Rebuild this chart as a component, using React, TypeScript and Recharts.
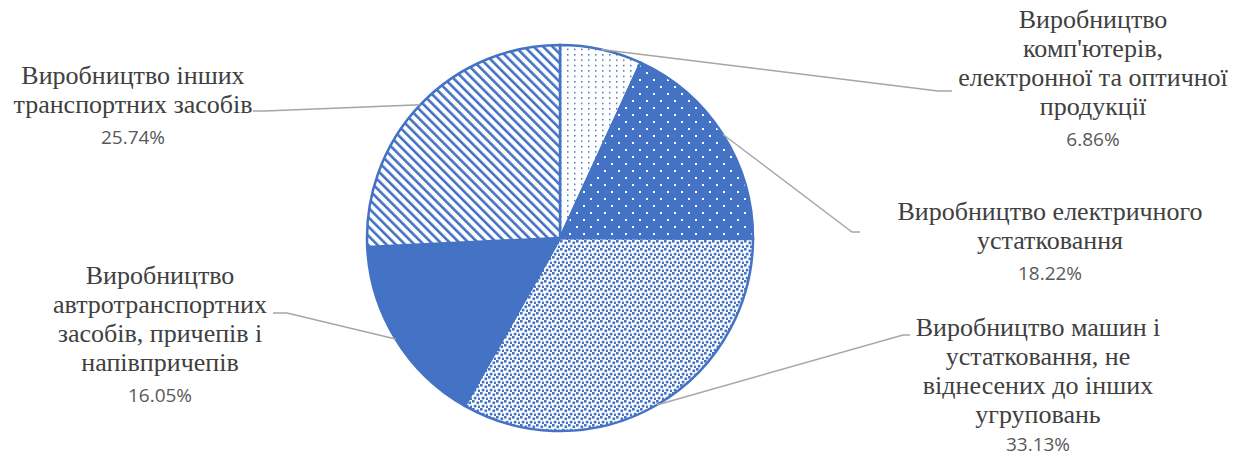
import React from 'react';
import { PieChart, Pie, Cell } from 'recharts';

const categories = [
  "Виробництво\nкомп'ютерів,\nелектронної та оптичної\nпродукції",
  'Виробництво електричного\nустатковання',
  'Виробництво машин і\nустатковання, не\nвіднесених до інших\nугруповань',
  'Виробництво\nавтротранспортних\nзасобів, причепів і\nнапівпричепів',
  'Виробництво інших\nтранспортних засобів',
];
const shares = [6.86, 18.22, 33.13, 16.05, 25.74];
const fills = ['url(#pDots)', 'url(#pBlueDots)', 'url(#pConfetti)', '#4472C4', 'url(#pStripes)'];

// label layout (text centre x, first baseline y, leader elbow, leader end)
const labelLayout = [
  { x: 1093, y: 28, ex: 938, ey: 91, tx: 952 },
  { x: 1050, y: 220, ex: 852, ey: 232, tx: 860 },
  { x: 1038, y: 336, ex: 903, ey: 335, tx: 910 },
  { x: 160, y: 284, ex: 287, ey: 313, tx: 273 },
  { x: 133, y: 84, ex: 265, ey: 111, tx: 253 },
];

const data = categories.map((name, i) => ({ name, value: shares[i] }));

const RAD = Math.PI / 180;

const css = `
.lbl-name, .lbl-name tspan { font-family: "Liberation Serif", "Times New Roman", serif !important; font-size: 26px !important; }
.lbl-pct { font-family: "Open Sans", sans-serif !important; font-size: 19px !important; }
`;

const renderLabel = (props: any) => {
  const { cx, cy, midAngle, outerRadius, index, value, name } = props;
  const L = labelLayout[index];
  const sx = cx + outerRadius * Math.cos(-midAngle * RAD);
  const sy = cy + outerRadius * Math.sin(-midAngle * RAD);
  const lines = String(name).split('\n');
  const lh = 29;
  const lastBase = L.y + (lines.length - 1) * lh;
  return (
    <g>
      <polyline
        points={`${sx},${sy} ${L.ex},${L.ey} ${L.tx},${L.ey}`}
        fill="none"
        stroke="#a6a6a6"
        strokeWidth={1.4}
      />
      <text
        className="lbl-name"
        x={L.x}
        y={L.y}
        textAnchor="middle"
        fontFamily="Liberation Serif"
        fontSize={26}
        fill="#404040"
      >
        {lines.map((ln, k) => (
          <tspan key={k} className="lbl-name" fontFamily="Liberation Serif" x={L.x} y={L.y + k * lh}>
            {ln}
          </tspan>
        ))}
      </text>
      <text
        className="lbl-pct"
        x={L.x}
        y={Math.min(lastBase + 31, 451)}
        textAnchor="middle"
        fontFamily="Open Sans"
        fontSize={19}
        fill="#595959"
      >
        {`${Number(value).toFixed(2)}%`}
      </text>
    </g>
  );
};

export default function App() {
  return (
    <div style={{ position: 'absolute', left: 0, top: 0, width: 1243, height: 458, background: '#fff', fontFamily: 'Liberation Serif' }}>
      <style>{css}</style>
      <svg width={0} height={0} style={{ position: 'absolute' }}>
        <defs>
          <pattern id="pDots" width={7} height={5.4} patternUnits="userSpaceOnUse">
            <rect width={7} height={5.4} fill="#fff" />
            <rect x={0} y={0} width={1.5} height={1.5} fill="#4472C4" />
          </pattern>
          <pattern id="pBlueDots" width={14} height={14} patternUnits="userSpaceOnUse">
            <rect width={14} height={14} fill="#4472C4" />
            <rect x={2} y={2} width={2} height={2} fill="#fff" />
            <rect x={9} y={9} width={2} height={2} fill="#fff" />
          </pattern>
          <pattern id="pConfetti" width={8} height={8} patternUnits="userSpaceOnUse">
            <rect width={8} height={8} fill="#fff" />
            <rect x={0} y={0} width={2.6} height={2.6} fill="#4472C4" />
            <rect x={4.5} y={1.5} width={2.6} height={2.6} fill="#4472C4" />
            <rect x={1.8} y={4.8} width={2.6} height={2.6} fill="#4472C4" />
            <rect x={6} y={5.6} width={2.4} height={2.4} fill="#4472C4" />
          </pattern>
          <pattern
            id="pStripes"
            width={6.6}
            height={6.6}
            patternUnits="userSpaceOnUse"
            patternTransform="rotate(-45)"
          >
            <rect width={6.6} height={6.6} fill="#fff" />
            <rect x={0} y={0} width={2.6} height={6.6} fill="#4472C4" />
          </pattern>
        </defs>
      </svg>
      <PieChart width={1243} height={458} margin={{ top: 0, right: 0, bottom: 0, left: 0 }}>
        <Pie
          data={data}
          dataKey="value"
          nameKey="name"
          cx={560}
          cy={238}
          outerRadius={193}
          startAngle={90}
          endAngle={-270}
          stroke="#4472C4"
          strokeWidth={2.5}
          label={renderLabel}
          labelLine={false}
          isAnimationActive={false}
        >
          {data.map((d, i) => (
            <Cell key={d.name} fill={fills[i]} stroke="#4472C4" strokeWidth={2.5} />
          ))}
        </Pie>
      </PieChart>
    </div>
  );
}
